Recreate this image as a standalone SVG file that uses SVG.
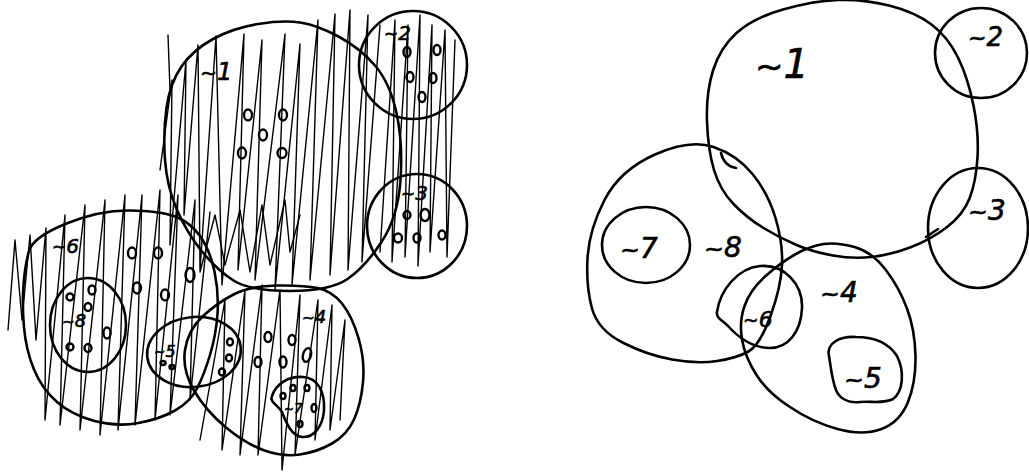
<svg xmlns="http://www.w3.org/2000/svg" width="1029" height="475" viewBox="0 0 1029 475">
<style>
.ink{fill:none;stroke:#000;stroke-width:2.6;stroke-linejoin:round;stroke-linecap:round}
.scr{fill:none;stroke:#000;stroke-width:1.4;stroke-linejoin:round;stroke-linecap:round}
.o{fill:none;stroke:#000;stroke-width:2.4}
.lbl{font-family:"DejaVu Sans",sans-serif;font-style:italic;fill:#000;stroke:#000;stroke-width:0.6}
.t{font-size:85%}
</style>
<rect width="1029" height="475" fill="#fff"/>
<g id="hatching">
<path class="scr" d="M168,35 L170,90 M160,170 L172,80 L170,245 L186,60 L184,215 L198,45 L200,270 L216,36 L222,285 L244,34 L238,270 L262,40 L255,280 L285,34 L275,290 L300,44 L292,285 L318,20 L310,280 L335,14 L330,275 L350,10 L348,270 L368,15 L362,262 L380,25"/>
<path class="scr" d="M200,272 L215,215 L225,265 L240,210 L250,272 L262,205 L270,265 L285,200 L290,252 L300,215"/>
<path class="scr" d="M380,252 L395,20 L392,262 L408,25 L405,257 L420,15 L418,266 L432,25 L430,252 L445,30 L447,257 L455,40"/>
<path class="scr" d="M8,330 L15,240 L22,320 L30,235 L36,340 L46,228 L45,420 L65,215 L60,425 L85,205 L80,430 L105,200 L100,435 L125,195 L118,430 L142,195 L135,425 L160,190 L155,420 L178,195 L170,415 L195,200 L190,400 L210,212"/>
<path class="scr" d="M200,440 L225,300 L222,450 L245,290 L240,455 L262,285 L258,455 L280,290 L282,470 L300,295 L295,455 L318,300 L315,440 L332,305 L330,430 L345,320 L340,420"/>
</g>
<g id="connectors"/>
<g id="L-n1">
<path class="ink" d="M202,251.5 Q187,233 177,210 Q167,187 165,160 Q163,133 166.5,108 Q170,83 181.5,66.5 Q193,50 213,39 Q233,28 258,24 Q283,20 300,22.5 Q317,25 338.5,36.5 Q360,48 375,65.5 Q390,83 396.5,113 Q403,143 400.5,180 Q398,217 381.5,242 Q365,267 347.5,279 Q330,291 290,291 Q250,291 233.5,280.5 Q217,270 202,251.5 Z"/>
<text class="lbl" x="200" y="80" font-size="24"><tspan class="t">~</tspan>1</text>
<ellipse class="o" cx="248" cy="115" rx="4" ry="5.5"/><ellipse class="o" cx="283" cy="115" rx="4" ry="5.5"/><ellipse class="o" cx="263" cy="135" rx="4" ry="5.5"/><ellipse class="o" cx="242" cy="153" rx="4" ry="5.5"/><ellipse class="o" cx="282" cy="153" rx="4.5" ry="5"/>
</g>
<g id="L-n2">
<ellipse class="ink" cx="413" cy="65" rx="54" ry="54"/>
<text class="lbl" x="384" y="40" font-size="20"><tspan class="t">~</tspan>2</text>
<ellipse class="o" cx="407" cy="52" rx="3.5" ry="5"/><ellipse class="o" cx="437" cy="50" rx="3.5" ry="5"/><ellipse class="o" cx="410" cy="77" rx="3.5" ry="5"/><ellipse class="o" cx="433" cy="78" rx="3.5" ry="5"/><ellipse class="o" cx="422" cy="97" rx="3.5" ry="5"/>
</g>
<g id="L-n3">
<ellipse class="ink" cx="417" cy="226" rx="50" ry="52"/>
<text class="lbl" x="401" y="200" font-size="20"><tspan class="t">~</tspan>3</text>
<ellipse class="o" cx="407" cy="215" rx="3.5" ry="4"/><ellipse class="o" cx="425" cy="215" rx="4.5" ry="6"/><ellipse class="o" cx="398" cy="238" rx="4" ry="4.5"/><ellipse class="o" cx="417" cy="238" rx="3.5" ry="4.5"/><ellipse class="o" cx="442" cy="235" rx="3.5" ry="4.5"/>
</g>
<g id="L-n6">
<path class="ink" d="M66.5,223.5 Q100,210 130,210.5 Q160,211 175,216.5 Q190,222 200,236 Q210,250 214.5,271.5 Q219,293 217.5,314 Q216,335 210,355 Q204,375 197,388.5 Q190,402 175,410.5 Q160,419 138.5,423 Q117,427 94.5,421 Q72,415 57,402 Q42,389 34,369.5 Q26,350 24,327.5 Q22,305 23.5,285 Q25,265 29,251 Q33,237 66.5,223.5 Z"/>
<text class="lbl" x="52" y="253" font-size="20"><tspan class="t">~</tspan>6</text>
<ellipse class="o" cx="132" cy="253" rx="4" ry="5.5"/><ellipse class="o" cx="158" cy="253" rx="4" ry="5.5"/><ellipse class="o" cx="137" cy="288" rx="4" ry="5.5"/><ellipse class="o" cx="165" cy="295" rx="4" ry="5.5"/><ellipse class="o" cx="190" cy="275" rx="4.5" ry="7"/>
</g>
<g id="L-n8">
<ellipse class="ink" cx="88" cy="325" rx="38" ry="47"/>
<text class="lbl" x="62" y="327" font-size="18"><tspan class="t">~</tspan>8</text>
<ellipse class="o" cx="70" cy="297" rx="3.5" ry="3.5"/><ellipse class="o" cx="92" cy="290" rx="3.5" ry="4.5"/><ellipse class="o" cx="88" cy="307" rx="3.5" ry="4"/><ellipse class="o" cx="107" cy="333" rx="3.5" ry="5.5"/><ellipse class="o" cx="70" cy="347" rx="3.5" ry="3.5"/><ellipse class="o" cx="88" cy="348" rx="3.5" ry="4"/>
</g>
<g id="L-n5">
<ellipse class="ink" cx="194" cy="352" rx="47" ry="35" transform="rotate(-6 194 352)"/>
<text class="lbl" x="154" y="357" font-size="16"><tspan class="t">~</tspan>5</text>
<ellipse class="o" cx="163" cy="363" rx="2.5" ry="2"/><ellipse class="o" cx="172" cy="367" rx="2.5" ry="2"/><ellipse class="o" cx="230" cy="342" rx="3" ry="3.5"/><ellipse class="o" cx="229" cy="358" rx="3" ry="3.5"/><ellipse class="o" cx="222" cy="372" rx="3" ry="3.5"/>
</g>
<g id="L-n4">
<path class="ink" d="M233.5,294.5 Q250,286 276.5,285.5 Q303,285 317.5,288 Q332,291 342,303.5 Q352,316 358.5,338 Q365,360 363,382 Q361,404 354,419.5 Q347,435 332,443.5 Q317,452 300,454.5 Q283,457 264.5,450.5 Q246,444 226,427.5 Q206,411 194,390.5 Q182,370 185,350 Q188,330 202.5,316.5 Q217,303 233.5,294.5 Z"/>
<text class="lbl" x="302" y="323" font-size="18"><tspan class="t">~</tspan>4</text>
<ellipse class="o" cx="268" cy="337" rx="3.5" ry="5"/><ellipse class="o" cx="292" cy="340" rx="3.5" ry="5"/><ellipse class="o" cx="258" cy="362" rx="3.5" ry="5"/><ellipse class="o" cx="283" cy="362" rx="3.5" ry="5.5"/><ellipse class="o" cx="307" cy="355" rx="4" ry="7" transform="rotate(15 307 355)"/>
</g>
<g id="L-n7">
<path class="ink" d="M272,396 C276,384 288,376 303,377 C318,378 325,392 324,410 C323,426 314,438 302,437 C291,436 286,422 282,412 C278,405 269,402 272,396 Z"/>
<text class="lbl" x="284" y="413" font-size="14"><tspan class="t">~</tspan>7</text>
<ellipse class="o" cx="283" cy="396" rx="2.5" ry="3"/><ellipse class="o" cx="293" cy="388" rx="2.5" ry="3"/><ellipse class="o" cx="307" cy="388" rx="2.5" ry="3"/><ellipse class="o" cx="314" cy="408" rx="2.5" ry="4"/><ellipse class="o" cx="300" cy="424" rx="2.5" ry="3"/>
</g>
<g id="R-n1">
<path class="ink" d="M707,121.5 Q706,93 713,70.5 Q720,48 736.5,33 Q753,18 783,9.5 Q813,1 838,0 Q863,-1 889,5.5 Q915,12 931.5,24.5 Q948,37 958,57.5 Q968,78 973.5,105.5 Q979,133 977.5,157.5 Q976,182 969.5,198.5 Q963,215 946.5,227.5 Q930,240 910,247.5 Q890,255 871.5,257 Q853,259 833,255.5 Q813,252 796.5,245 Q780,238 763.5,228 Q747,218 733.5,204 Q720,190 714,170 Q708,150 707,121.5 Z"/>
<path class="ink" d="M721,153 Q724,166 736,168 M926,237 L938,229"/>
<text class="lbl" x="755" y="78" font-size="40"><tspan class="t">~</tspan>1</text>
</g>
<g id="R-n2">
<ellipse class="ink" cx="981" cy="53" rx="46" ry="45"/>
<text class="lbl" x="968" y="46" font-size="26"><tspan class="t">~</tspan>2</text>
</g>
<g id="R-n3">
<ellipse class="ink" cx="978" cy="228" rx="50" ry="60"/>
<text class="lbl" x="968" y="220" font-size="28"><tspan class="t">~</tspan>3</text>
</g>
<g id="R-n8">
<path class="ink" d="M655,154.5 Q690,139 713.5,147 Q737,155 752.5,174 Q768,193 775.5,218 Q783,243 782,265 Q781,287 770.5,316 Q760,345 748.5,351.5 Q737,358 717,361 Q697,364 672,359.5 Q647,355 622.5,342.5 Q598,330 592,308.5 Q586,287 587.5,258.5 Q589,230 604.5,200 Q620,170 655,154.5 Z"/>
<text class="lbl" x="704" y="257" font-size="28"><tspan class="t">~</tspan>8</text>
</g>
<g id="R-n7">
<ellipse class="ink" cx="646" cy="245" rx="44" ry="38"/>
<text class="lbl" x="620" y="258" font-size="28"><tspan class="t">~</tspan>7</text>
</g>
<g id="R-n6">
<path class="ink" d="M717,312 C720,290 738,268 760,266 C785,264 803,285 802,308 C801,332 788,348 770,348 C752,348 738,337 728,326 C722,320 716,318 717,312 Z"/>
<text class="lbl" x="743" y="327" font-size="22"><tspan class="t">~</tspan>6</text>
</g>
<g id="R-n4">
<path class="ink" d="M795,254.5 Q810,246 823.5,244 Q837,242 854.5,247 Q872,252 885.5,269.5 Q899,287 907,308.5 Q915,330 915.5,356 Q916,382 908,402 Q900,422 881.5,429 Q863,436 837.5,429 Q812,422 790,407 Q768,393 756.5,375 Q745,357 742,339.5 Q739,322 744.5,306 Q750,290 765,276.5 Q780,263 795,254.5 Z"/>
<text class="lbl" x="820" y="302" font-size="28"><tspan class="t">~</tspan>4</text>
</g>
<g id="R-n5">
<path class="ink" d="M829,356 C826,343 840,336 856,337 C872,337 888,342 897,356 C905,372 903,392 893,399 C884,404 872,401 860,402 C850,403 840,400 836,390 C832,380 831,368 829,356 Z"/>
<text class="lbl" x="844" y="388" font-size="28"><tspan class="t">~</tspan>5</text>
</g>
</svg>
